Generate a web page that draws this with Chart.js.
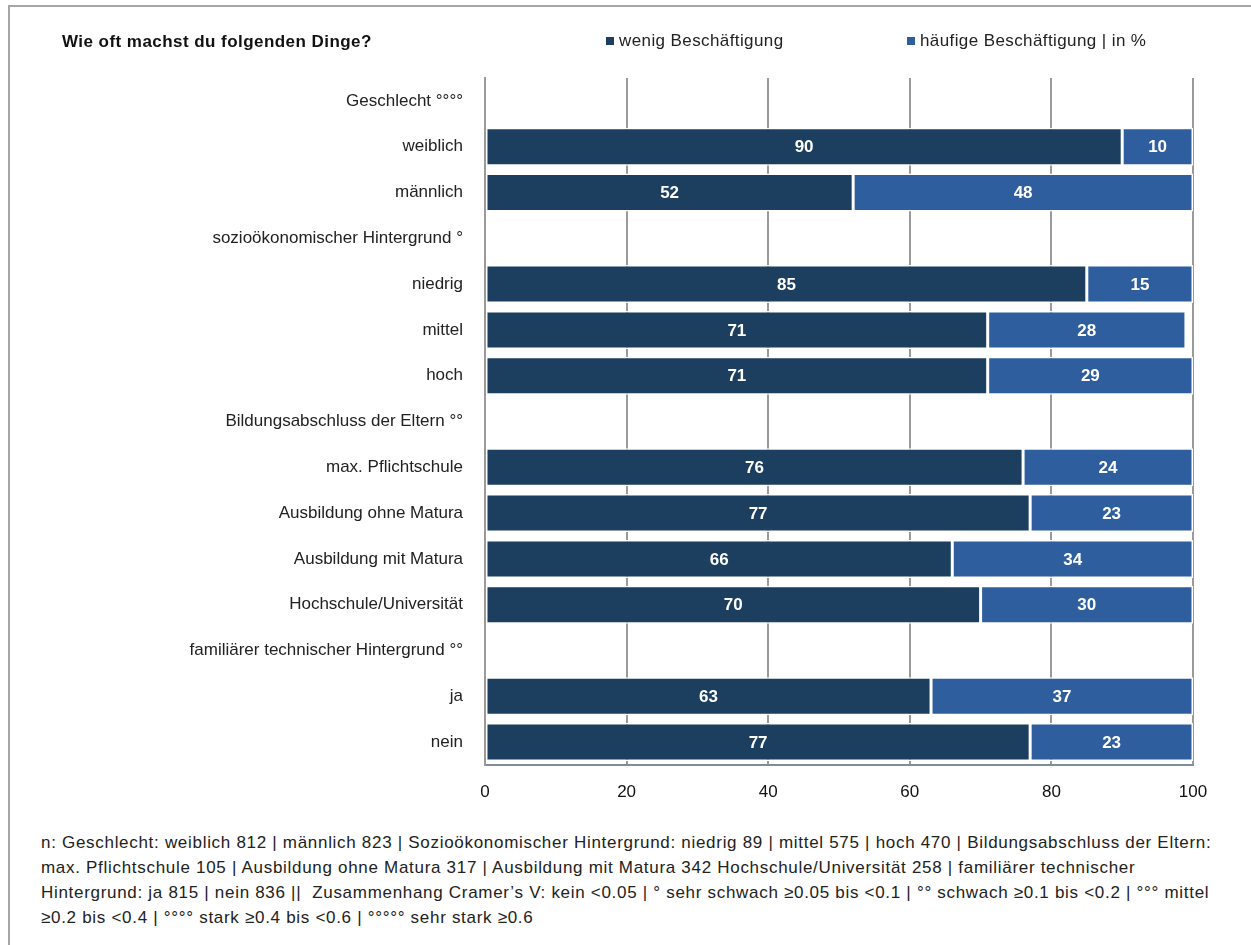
<!DOCTYPE html>
<html>
<head>
<meta charset="utf-8">
<script src="https://cdn.jsdelivr.net/npm/chart.js@4/dist/chart.umd.min.js"></script>
<style>
  body { margin: 0; background: #fff; font-family: "Liberation Sans", sans-serif; }
  #frame { position: absolute; left: 8px; top: 5px; width: 1260px; height: 960px; border-left: 2px solid #a6a6a6; border-top: 2px solid #a6a6a6; }
  #wrap { position: absolute; left: 0; top: 0; width: 1251px; height: 820px; }
  #title { position: absolute; left: 62px; top: 32px; font-weight: bold; font-size: 17px; letter-spacing: 0.45px; color: #111; }
  .leg { position: absolute; top: 31px; font-size: 17px; letter-spacing: 0.4px; color: #222; }
  .leg span { display: inline-block; width: 8px; height: 8px; margin-right: 5px; vertical-align: 1px; }
  #note { position: absolute; left: 41px; top: 830px; font-size: 17px; letter-spacing: 0.7px; line-height: 25px; color: #222; white-space: nowrap; }
</style>
</head>
<body>
<div id="frame"></div>
<div id="wrap"><canvas id="chart" width="1251" height="820"></canvas></div>
<div id="title">Wie oft machst du folgenden Dinge?</div>
<div id="legend"></div>
<div id="note">
n: Geschlecht: weiblich 812 | männlich 823 | Sozioökonomischer Hintergrund: niedrig 89 | mittel 575 | hoch 470 | Bildungsabschluss der Eltern:<br>
max. Pflichtschule 105 | Ausbildung ohne Matura 317 | Ausbildung mit Matura 342 Hochschule/Universität 258 | familiärer technischer<br>
Hintergrund: ja 815 | nein 836 ||&nbsp; Zusammenhang Cramer’s V: kein &lt;0.05 | ° sehr schwach ≥0.05 bis &lt;0.1 | °° schwach ≥0.1 bis &lt;0.2 | °°° mittel<br>
≥0.2 bis &lt;0.4 | °°°° stark ≥0.4 bis &lt;0.6 | °°°°° sehr stark ≥0.6
</div>
<script>
// Daten
const kategorien = [
  "Geschlecht °°°°", "weiblich", "männlich",
  "sozioökonomischer Hintergrund °", "niedrig", "mittel", "hoch",
  "Bildungsabschluss der Eltern °°", "max. Pflichtschule", "Ausbildung ohne Matura",
  "Ausbildung mit Matura", "Hochschule/Universität",
  "familiärer technischer Hintergrund °°", "ja", "nein"
];
const wenig = [null, 90, 52, null, 85, 71, 71, null, 76, 77, 66, 70, null, 63, 77];
const haeufig = [null, 10, 48, null, 15, 28, 29, null, 24, 23, 34, 30, null, 37, 23];
const xTicks = [0, 20, 40, 60, 80, 100];

const serien = [
  { label: "wenig Beschäftigung", data: wenig, color: "#1c3f60" },
  { label: "häufige Beschäftigung | in %", data: haeufig, color: "#2e5e9e" },
];

// Legende (HTML, wegen Position neben dem Titel)
const legendPos = [606, 907];
const legend = document.getElementById("legend");
serien.forEach((s, i) => {
  const d = document.createElement("div");
  d.className = "leg";
  d.style.left = legendPos[i] + "px";
  d.innerHTML = `<span style="background:${s.color}"></span>${s.label}`;
  legend.appendChild(d);
});

// Werte in die Balken schreiben
const barLabels = {
  id: "barLabels",
  afterDatasetsDraw(chart) {
    const ctx = chart.ctx;
    ctx.save();
    ctx.fillStyle = "#fff";
    ctx.font = "bold 17px 'Liberation Sans', sans-serif";
    ctx.textAlign = "center";
    ctx.textBaseline = "middle";
    chart.data.datasets.forEach((ds, i) => {
      chart.getDatasetMeta(i).data.forEach((bar, j) => {
        const v = ds.data[j];
        if (v == null) return;
        const { x, base, y } = bar.getProps(["x", "base", "y"], true);
        ctx.fillText(String(v), (x + base) / 2, y + 1);
      });
    });
    ctx.restore();
  },
};

new Chart(document.getElementById("chart"), {
  type: "bar",
  data: {
    labels: kategorien,
    datasets: serien.map((s) => ({
      label: s.label,
      data: s.data,
      backgroundColor: s.color,
      borderColor: "#ffffff",
      borderWidth: 1.5,
      borderSkipped: false,
      categoryPercentage: 1,
      barPercentage: 0.83,
    })),
  },
  options: {
    indexAxis: "y",
    responsive: false,
    animation: false,
    layout: { padding: { left: 0, right: 58, top: 78, bottom: 0 } },
    plugins: { legend: { display: false }, tooltip: { enabled: false } },
    scales: {
      x: {
        stacked: true,
        min: 0,
        max: 100,
        ticks: {
          stepSize: 20,
          color: "#111",
          padding: 17,
          font: { size: 17, family: "'Liberation Sans', sans-serif" },
          callback: (v) => (xTicks.includes(v) ? v : ""),
        },
        afterFit: (scale) => { scale.height = 55; },
        grid: { color: "#9a9a9a", lineWidth: 2, drawTicks: false },
        border: { display: true, color: "#7f8c99", width: 2 },
      },
      y: {
        stacked: true,
        afterFit: (scale) => { scale.width = 485; },
        grid: { display: false },
        border: { display: true, color: "#9a9a9a", width: 2 },
        ticks: { color: "#222", padding: 14, font: { size: 17, family: "'Liberation Sans', sans-serif" } },
      },
    },
  },
  plugins: [barLabels],
});
</script>
</body>
</html>
